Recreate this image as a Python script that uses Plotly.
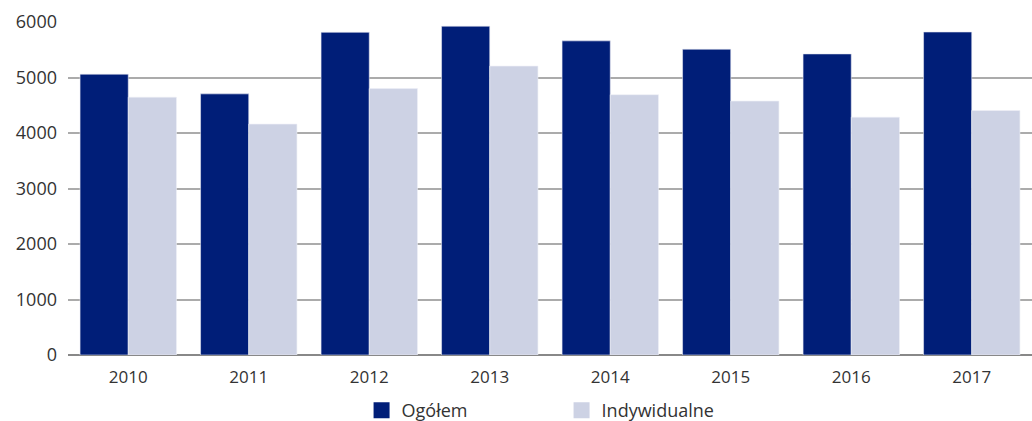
import plotly.graph_objects as go

years = ["2010", "2011", "2012", "2013", "2014", "2015", "2016", "2017"]
ogolem = [5060, 4705, 5815, 5925, 5660, 5510, 5425, 5820]
indywidualne = [4645, 4160, 4800, 5205, 4690, 4575, 4285, 4405]
y_ticks = [0, 1000, 2000, 3000, 4000, 5000, 6000]

c_og = "#001E78"
c_ind = "#CDD2E4"

fig = go.Figure()
fig.add_trace(go.Bar(x=years, y=ogolem, name="Ogółem", showlegend=False,
                     marker=dict(color=c_og, line=dict(color="#E8EAF2", width=0.6))))
fig.add_trace(go.Bar(x=years, y=indywidualne, name="Indywidualne", showlegend=False,
                     marker=dict(color=c_ind, line=dict(color="#EEF0F6", width=0.6))))
# legend entries with larger square swatches
fig.add_trace(go.Scatter(x=[None], y=[None], mode="markers", name="Ogółem",
                         marker=dict(symbol="square", size=20, color=c_og)))
fig.add_trace(go.Scatter(x=[None], y=[None], mode="markers", name="Indywidualne",
                         marker=dict(symbol="square", size=20, color=c_ind)))

fig.update_layout(
    width=1032, height=421,
    margin=dict(l=68, r=0, t=22, b=66, autoexpand=False),
    paper_bgcolor="white", plot_bgcolor="white",
    barmode="group", bargap=0.2, bargroupgap=0,
    font=dict(family="Open Sans", size=17, color="#333333"),
    showlegend=True,
    legend=dict(orientation="h", x=0.512, xanchor="center",
                yref="container", y=0.025, yanchor="middle",
                font=dict(size=18, color="#333333"), entrywidth=155,
                itemsizing="trace", bgcolor="rgba(0,0,0,0)"),
)
fig.update_xaxes(showgrid=False, ticks="", showline=False, tickfont=dict(size=17),
                 ticklabelstandoff=10)
fig.update_yaxes(range=[0, 6000], tickvals=y_ticks, showgrid=True, gridcolor="#ABABAB",
                 gridwidth=1.5, zeroline=True, zerolinecolor="#888888", zerolinewidth=1.5,
                 ticks="", ticklabelstandoff=10, tickfont=dict(size=18))

fig.write_html("out.html", config={"displayModeBar": False},
               post_script="document.body.style.margin='0px';document.body.style.overflow='hidden';")
